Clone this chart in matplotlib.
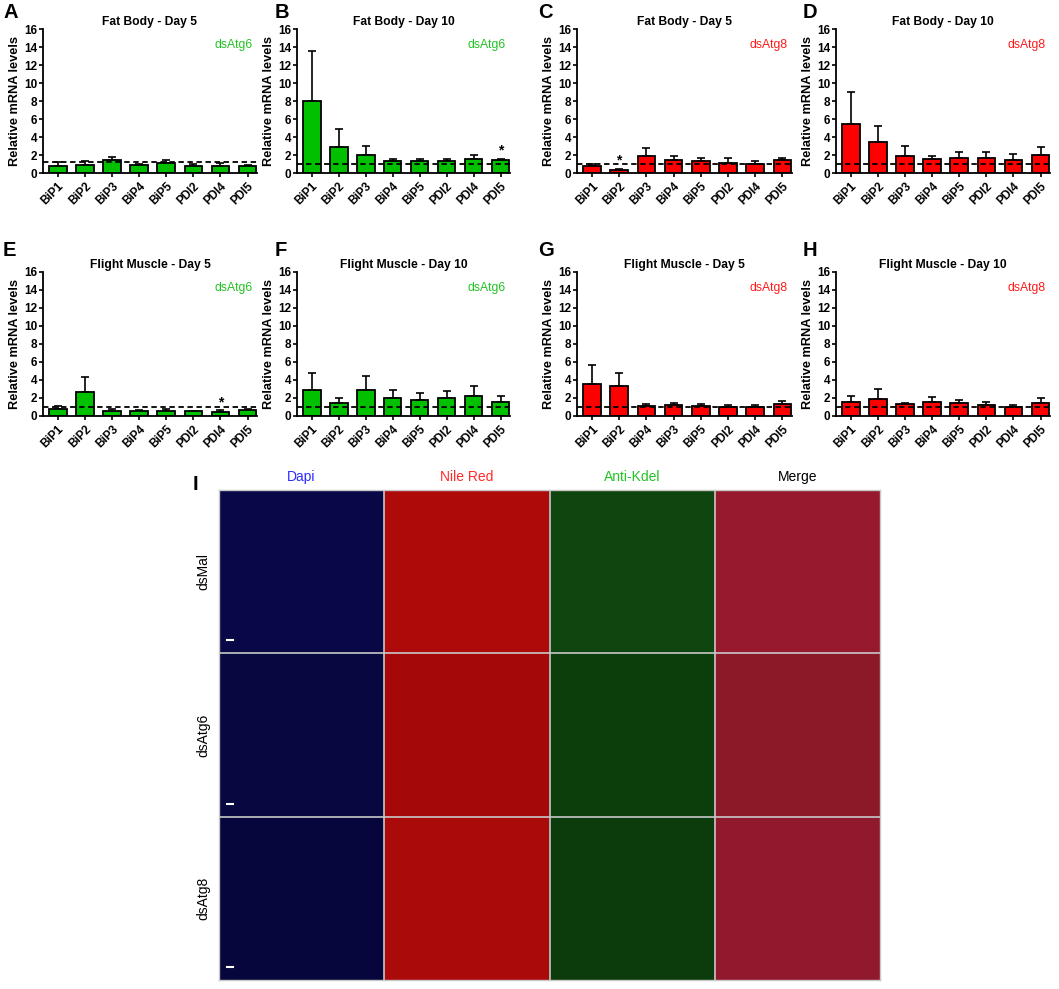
import numpy as np
import matplotlib.pyplot as plt

plt.rcParams['font.family'] = ['Liberation Sans', 'DejaVu Sans']

# gene labels (panel G has BiP4/BiP3 swapped)
genes = ['BiP1', 'BiP2', 'BiP3', 'BiP4', 'BiP5', 'PDI2', 'PDI4', 'PDI5']
genes_g = ['BiP1', 'BiP2', 'BiP4', 'BiP3', 'BiP5', 'PDI2', 'PDI4', 'PDI5']

# bar means and top of error bars
a_mean = [0.82, 0.88, 1.42, 0.88, 1.08, 0.82, 0.82, 0.82]
a_top = [1.25, 1.32, 1.80, 1.05, 1.45, 1.05, 1.10, 0.93]
b_mean = [8.0, 2.9, 2.0, 1.37, 1.37, 1.37, 1.55, 1.45]
b_top = [13.6, 4.9, 3.0, 1.6, 1.6, 1.6, 2.0, 1.6]
c_mean = [0.8, 0.33, 1.9, 1.45, 1.33, 1.15, 1.04, 1.41]
c_top = [1.0, 0.5, 2.75, 1.9, 1.63, 1.63, 1.37, 1.63]
d_mean = [5.5, 3.5, 1.93, 1.52, 1.63, 1.63, 1.44, 2.04]
d_top = [9.05, 5.2, 3.04, 1.93, 2.33, 2.33, 2.1, 2.85]
e_mean = [0.73, 2.7, 0.59, 0.55, 0.55, 0.51, 0.48, 0.66]
e_top = [1.06, 4.3, 0.77, 0.70, 0.73, 0.59, 0.62, 0.80]
f_mean = [2.9, 1.43, 2.93, 2.05, 1.83, 2.05, 2.24, 1.58]
f_top = [4.8, 2.05, 4.44, 2.93, 2.6, 2.75, 3.34, 2.2]
g_mean = [3.52, 3.34, 1.1, 1.17, 1.14, 1.03, 1.03, 1.36]
g_top = [5.65, 4.77, 1.32, 1.5, 1.36, 1.17, 1.25, 1.69]
h_mean = [1.61, 1.94, 1.28, 1.61, 1.39, 1.25, 0.99, 1.5]
h_top = [2.17, 3.05, 1.5, 2.06, 1.8, 1.54, 1.25, 1.98]

# dashed control level per panel
baselines = [1.2, 1.05, 1.05, 1.0, 1.05, 1.0, 1.0, 1.0]
# index of bar marked with * (None if no mark)
stars = [None, 7, 1, None, 6, None, None, None]

letters = ['A', 'B', 'C', 'D', 'E', 'F', 'G', 'H']
titles = ['Fat Body - Day 5', 'Fat Body - Day 10', 'Fat Body - Day 5', 'Fat Body - Day 10',
          'Flight Muscle - Day 5', 'Flight Muscle - Day 10', 'Flight Muscle - Day 5',
          'Flight Muscle - Day 10']
treatments = ['dsAtg6', 'dsAtg6', 'dsAtg8', 'dsAtg8', 'dsAtg6', 'dsAtg6', 'dsAtg8', 'dsAtg8']
means = [a_mean, b_mean, c_mean, d_mean, e_mean, f_mean, g_mean, h_mean]
tops = [a_top, b_top, c_top, d_top, e_top, f_top, g_top, h_top]
labels = [genes, genes, genes, genes, genes, genes, genes_g, genes]

# microscopy panel
col_titles = ['Dapi', 'Nile Red', 'Anti-Kdel', 'Merge']
col_colors = ['#2a2aff', '#ff2a2a', '#22c422', 'black']
row_titles = ['dsMal', 'dsAtg6', 'dsAtg8']
# average tone of each image tile (row x channel)
tile_rgb = [
    [(8, 8, 70), (175, 10, 10), (15, 70, 15), (150, 25, 45)],
    [(8, 8, 65), (165, 8, 8), (12, 62, 12), (140, 25, 40)],
    [(6, 6, 60), (170, 10, 10), (12, 60, 12), (145, 25, 45)],
]

W, H = 1059, 989
fig = plt.figure(figsize=(W / 100, H / 100), dpi=100)

lefts = [43, 297, 577, 836]
rights = [257, 510, 792, 1050]
row_y = [(29, 173), (272, 416)]  # (top of 16, bottom of 0) in pixels

green = '#00c000'
red = '#ff0000'

for i in range(8):
    r, c = divmod(i, 4)
    top_px, bot_px = row_y[r]
    ax = fig.add_axes([lefts[c] / W, 1 - bot_px / H, (rights[c] - lefts[c]) / W,
                       (bot_px - top_px) / H])
    x = np.arange(8)
    m = np.array(means[i])
    t = np.array(tops[i])
    col = green if treatments[i] == 'dsAtg6' else red
    ax.bar(x, m, width=0.65, color=col, edgecolor='black', linewidth=1.3, zorder=2)
    ax.errorbar(x, m, yerr=[np.zeros(8), t - m], fmt='none', ecolor='black',
                elinewidth=1.2, capsize=3, capthick=1.2, zorder=1)
    ax.axhline(baselines[i], color='black', ls=(0, (3, 2)), lw=1.3, zorder=3)
    if stars[i] is not None:
        ax.text(stars[i], tops[i][stars[i]] + 0.15, '*', ha='center', va='bottom',
                fontsize=10, fontweight='bold')
    ax.set_xlim(-0.55, 7.35)
    ax.set_ylim(0, 16)
    ax.set_yticks(range(0, 17, 2))
    ax.set_xticks(x)
    ax.set_xticklabels(labels[i], rotation=45, ha='right', rotation_mode='anchor',
                       fontsize=8.5, fontweight='bold')
    for lab in ax.get_yticklabels():
        lab.set_fontweight('bold')
    ax.tick_params(axis='y', labelsize=8.5, length=3, width=1.2, pad=1)
    ax.tick_params(axis='x', length=3, width=1.2, pad=2)
    ax.spines['top'].set_visible(False)
    ax.spines['right'].set_visible(False)
    ax.spines['left'].set_linewidth(1.3)
    ax.spines['bottom'].set_linewidth(1.3)
    ax.set_ylabel('Relative mRNA levels', fontsize=9.2, fontweight='bold', labelpad=2)
    ax.set_title(titles[i], fontsize=8.7, fontweight='bold', pad=3)
    ax.text(0.98, 0.89, treatments[i], transform=ax.transAxes, ha='right', va='center',
            fontsize=8.7, color='#22c422' if treatments[i] == 'dsAtg6' else '#ff1a1a')
    letter_x = [3, 275, 538, 803][c]
    letter_y = [12, 250][r]
    fig.text(letter_x / W, 1 - letter_y / H, letters[i], fontsize=14.5, fontweight='bold',
             ha='left', va='center')

# panel I: microscopy grid
img_l, img_r, img_t, img_b = 219, 880, 490, 980
axi = fig.add_axes([img_l / W, 1 - img_b / H, (img_r - img_l) / W, (img_b - img_t) / H])
tiles = np.array(tile_rgb, dtype=float) / 255.0
axi.imshow(tiles, extent=(0, 4, 3, 0), aspect='auto', interpolation='nearest')
for k in range(1, 4):
    axi.axvline(k, color='#c8c8c8', lw=1.2)
for k in range(1, 3):
    axi.axhline(k, color='#c8c8c8', lw=1.2)
# small scale bars in the Dapi tiles
for k in range(3):
    axi.plot([0.05, 0.085], [k + 0.92, k + 0.92], color='white', lw=1.5)
axi.set_xlim(0, 4)
axi.set_ylim(3, 0)
axi.set_xticks([])
axi.set_yticks([])
for s in axi.spines.values():
    s.set_color('#c8c8c8')
    s.set_linewidth(1)

for k, (name, colr) in enumerate(zip(col_titles, col_colors)):
    axi.text(k + 0.5, -0.035, name, ha='center', va='bottom', fontsize=10, color=colr)
for k, name in enumerate(row_titles):
    axi.text(-0.055, k + 0.5, name, ha='right', va='center', rotation=90, fontsize=10)
fig.text(193 / W, 1 - 485 / H, 'I', fontsize=14.5, fontweight='bold', ha='left', va='center')

fig.savefig('out.png', dpi=100)
